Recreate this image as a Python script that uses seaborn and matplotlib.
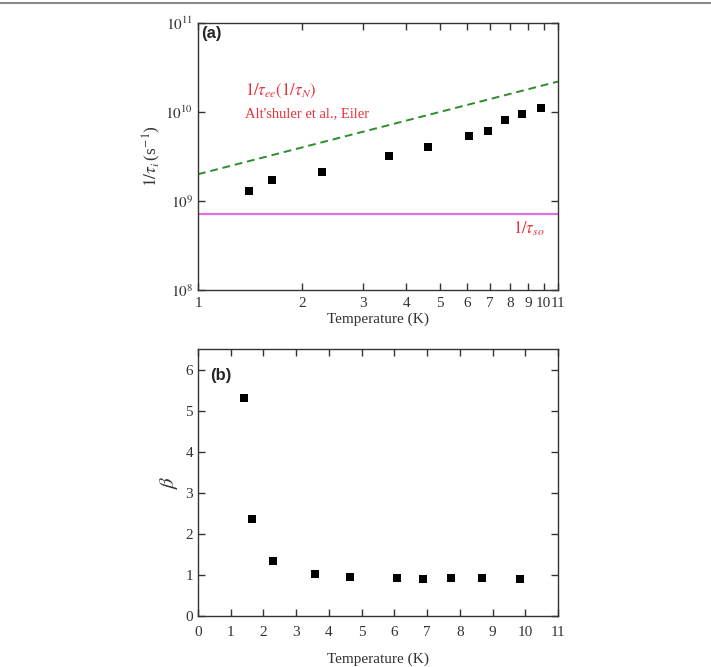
"""
plot.py

Inelastic scattering rate (a) and exponent beta (b) versus temperature.
"""

import numpy as np
import pandas as pd
import matplotlib.pyplot as plt
from matplotlib.lines import Line2D
from matplotlib.ticker import FixedLocator, NullLocator
import seaborn as sns

# Data
temperature = [1.40, 1.64, 2.28, 3.56, 4.64, 6.08, 6.88, 7.73, 8.68, 9.85]
rate_inel = [1.31e9, 1.74e9, 2.12e9, 3.2e9, 4.0e9, 5.4e9, 6.07e9, 8.07e9, 9.6e9, 1.11e10]
beta = [5.30, 2.35, 1.35, 1.02, 0.95, 0.92, 0.91, 0.92, 0.92, 0.91]

# Theory lines
theory_T = [1.0, 11.0]
theory_rate = [2.0e9, 2.2e10]
so_rate = 7.1e8

x_ticks_a = [1, 2, 3, 4, 5, 6, 7, 8, 9, 10, 11]
y_ticks_a = [1e8, 1e9, 1e10, 1e11]
x_ticks_b = list(range(0, 12))
y_ticks_b = list(range(0, 7))

OUTPUT_FILEPATH = "out.png"

TICK_FONTSIZE = 11
LABEL_FONTSIZE = 11
RED = "#e8303a"

sns.set_style("ticks")
plt.rcParams["font.family"] = ["Liberation Serif", "DejaVu Serif"]
plt.rcParams["mathtext.fontset"] = "stix"


def style_axes(ax, pad):
    for side in ax.spines.values():
        side.set_color("#333333")
        side.set_linewidth(1.0)
    ax.tick_params(which="major", direction="in", length=5, width=1,
                   top=True, right=True, labelsize=TICK_FONTSIZE,
                   colors="#333333", labelcolor="#333333")
    ax.tick_params(axis="x", pad=pad)


def main():
    df = pd.DataFrame({"T": temperature, "rate": rate_inel, "beta": beta})
    theory = pd.DataFrame({"T": theory_T, "rate": theory_rate})

    fig = plt.figure(figsize=(7.11, 6.67), dpi=100)
    fig.add_artist(Line2D([0, 1], [0.996, 0.996], color="#888888", lw=1.5))

    # Panel (a)
    ax1 = fig.add_axes([0.2785, 0.5652, 0.5063, 0.4003])
    sns.lineplot(data=theory, x="T", y="rate", ax=ax1, color="#2e8b2e",
                 linestyle=(0, (4, 2.5)), lw=1.4)
    ax1.axhline(so_rate, color="#e070e0", lw=1.6)
    sns.scatterplot(data=df, x="T", y="rate", ax=ax1, marker="s", s=28,
                    color="black", edgecolor="black", linewidth=0, zorder=3)
    ax1.set_xscale("log")
    ax1.set_yscale("log")
    ax1.set_xlim(1, 11)
    ax1.set_ylim(1e8, 1e11)
    ax1.xaxis.set_major_locator(FixedLocator(x_ticks_a))
    ax1.xaxis.set_minor_locator(NullLocator())
    ax1.set_xticklabels([str(t) for t in x_ticks_a])
    ax1.yaxis.set_major_locator(FixedLocator(y_ticks_a))
    ax1.yaxis.set_minor_locator(NullLocator())
    ax1.set_yticklabels([rf"$10^{{{int(np.log10(v))}}}$" for v in y_ticks_a])
    style_axes(ax1, pad=5)
    ax1.set_xlabel("Temperature (K)", fontsize=LABEL_FONTSIZE, color="#333333",
                   labelpad=2)
    ax1.set_ylabel(r"$1/\tau_i\,$(s$^{-1}$)", fontsize=12.5, color="#333333",
                   labelpad=2)
    ax1.text(0.008, 0.96, "(a)", transform=ax1.transAxes, fontsize=12,
             fontweight="bold", family="Liberation Sans", va="center", ha="left")
    ax1.text(0.13, 0.745, r"$1/\tau_{ee}(1/\tau_N)$", transform=ax1.transAxes,
             fontsize=12, color=RED, va="center", ha="left")
    ax1.text(0.13, 0.66, "Alt'shuler et al., Eiler", transform=ax1.transAxes,
             fontsize=10.5, color=RED, va="center", ha="left")
    ax1.text(0.875, 0.23, r"$1/\tau_{so}$", transform=ax1.transAxes,
             fontsize=12, color=RED, va="center", ha="left")

    # Panel (b)
    ax2 = fig.add_axes([0.2785, 0.0765, 0.5063, 0.4003])
    sns.scatterplot(data=df, x="T", y="beta", ax=ax2, marker="s", s=28,
                    color="black", edgecolor="black", linewidth=0, zorder=3)
    ax2.set_xlim(0, 11)
    ax2.set_ylim(0, 6.5)
    ax2.set_xticks(x_ticks_b)
    ax2.set_yticks(y_ticks_b)
    style_axes(ax2, pad=7)
    ax2.set_xlabel("Temperature (K)", fontsize=LABEL_FONTSIZE, color="#333333",
                   labelpad=10)
    ax2.set_ylabel(r"$\beta$", fontsize=15, color="#333333", labelpad=4)
    ax2.text(0.035, 0.9, "(b)", transform=ax2.transAxes, fontsize=12,
             fontweight="bold", family="Liberation Sans", va="center", ha="left")

    fig.savefig(OUTPUT_FILEPATH, dpi=100)


if __name__ == "__main__":
    main()
